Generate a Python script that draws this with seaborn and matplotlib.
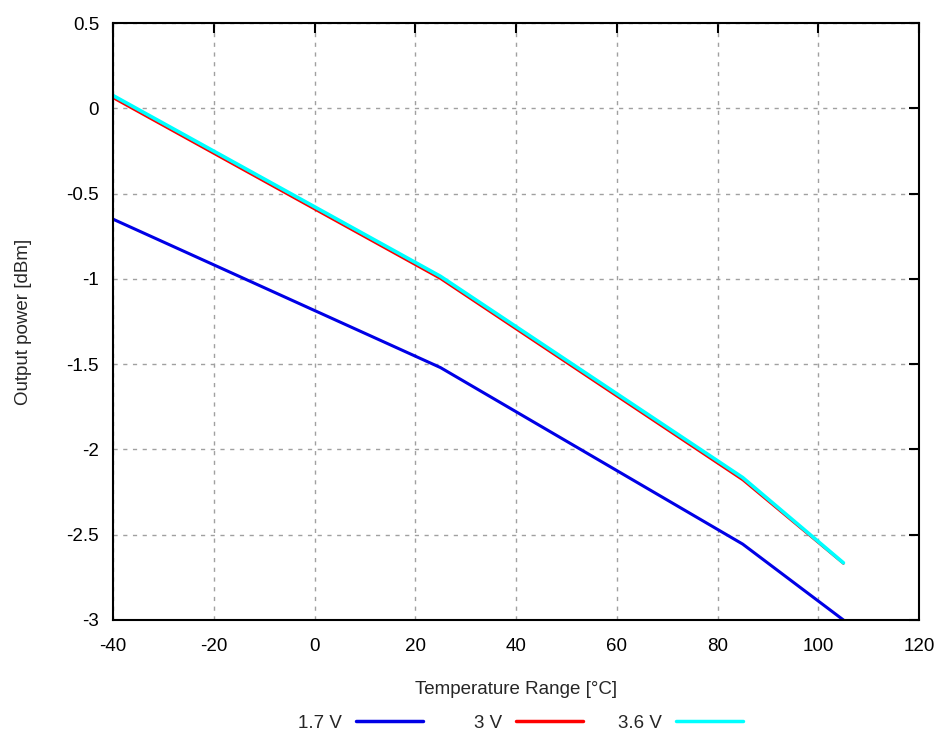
import matplotlib
matplotlib.use("Agg")
import matplotlib.pyplot as plt
import seaborn as sns
import pandas as pd
from matplotlib.lines import Line2D

temps = [-40, 25, 85, 105]
p_17 = [-0.65, -1.52, -2.555, -3.0]
p_30 = [0.06, -1.0, -2.18, -2.67]
p_36 = [0.075, -0.985, -2.165, -2.665]
series = ["1.7 V", "3 V", "3.6 V"]
colors = ["#0000e6", "#ff0000", "#00ffff"]
widths = [2.2, 1.6, 2.6]
xticks = [-40, -20, 0, 20, 40, 60, 80, 100, 120]
yticks = [-3, -2.5, -2, -1.5, -1, -0.5, 0, 0.5]

sns.set_style("white")
plt.rcParams['font.family'] = ['Liberation Sans', 'DejaVu Sans']
FS = 13.5

df = pd.DataFrame({
    "T": temps * 3,
    "P": p_17 + p_30 + p_36,
    "V": [series[0]] * 4 + [series[1]] * 4 + [series[2]] * 4,
})

fig = plt.figure(figsize=(9.36, 7.34), dpi=100)
ax = fig.add_axes([113/936, 1 - 620/734, (919-113)/936, (620-23)/734])

for s, c, w in zip(series, colors, widths):
    sns.lineplot(data=df[df["V"] == s], x="T", y="P", color=c, linewidth=w,
                 ax=ax, legend=False, estimator=None, sort=False)

ax.set_xlim(-40, 120)
ax.set_ylim(-3, 0.5)
ax.set_xticks(xticks)
ax.set_xticklabels([str(t) for t in xticks])
ax.set_yticks(yticks)
ax.set_yticklabels([f"{t:g}" for t in yticks])
ax.grid(True, color="#a0a0a0", linestyle=(0, (3, 4)), linewidth=1)
ax.tick_params(direction="in", length=7, width=1.5, top=True, right=True,
               labelsize=FS, colors="black")
ax.tick_params(axis="x", pad=13)
ax.tick_params(axis="y", pad=10)
for sp in ax.spines.values():
    sp.set_color("black")
    sp.set_linewidth(1.5)
ax.set_xlabel("Temperature Range [°C]", fontsize=FS)
ax.set_ylabel("Output power [dBm]", fontsize=FS)
ax.xaxis.set_label_coords(0.5, (620 - 681) / 597)
ax.yaxis.set_label_coords((32 - 113) / 806, 0.5)

line_ends = [423, 583, 743]
for s, c, xe in zip(series, colors, line_ends):
    h = Line2D([], [], color=c, linewidth=2.5)
    leg = fig.legend([h], [s], loc="center right",
                     bbox_to_anchor=(xe / 936, 1 - 723 / 734),
                     frameon=False, markerfirst=False, handlelength=3.6,
                     handletextpad=0.7, fontsize=FS, borderpad=0,
                     borderaxespad=0)

fig.savefig("out.png", dpi=100)
